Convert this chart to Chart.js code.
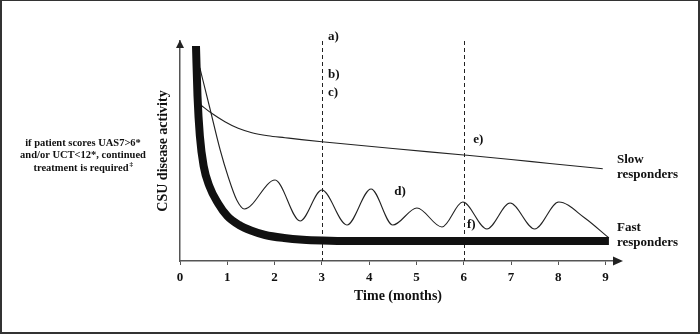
<!DOCTYPE html>
<html><head><meta charset="utf-8">
<script src="https://cdn.jsdelivr.net/npm/chart.js@4/dist/chart.umd.min.js"></script>
<style>html,body{margin:0;padding:0;background:#fff}#wrap{width:700px;height:334px;position:relative}</style>
</head><body><div id="wrap"><canvas id="c" width="700" height="334"></canvas></div>
<script>
// x tick labels (months)
const monthTicks = [0,1,2,3,4,5,6,7,8,9];
// Fast responders (thick curve)
const fastMonths = [0.338,0.37,0.42,0.50,0.62,0.80,1.00,1.25,1.50,1.80,2.20,2.60,3.00,3.60,9.07];
const fastValues = [215,165,125,95,75,58,45,36,30.5,26,23,21.3,20.5,20,20];
// Slow responders
const slowMonths = [0.44,0.67,0.95,1.23,1.52,1.86,2.22,2.57,3.00,4.50,6.00,7.00,7.82,8.94];
const slowValues = [156,147.7,139.3,132.7,128.3,125.3,123.3,121.4,119.3,112.5,106,101.5,97.5,92.3];
// Fluctuating course (d)
const waveMonths = [0.42,0.62,0.85,1.02,1.20,1.36,2.01,2.54,3.00,3.53,4.04,4.50,5.01,5.54,5.98,6.49,6.98,7.50,8.01,8.56,9.07];
const waveValues = [193,155,111,84,61,52,81,40,71,36,72,36,53,34,59,32,58,32,59,43,23];
// Decision time points (dashed lines)
const decisionMonths = [3,6];
// Letter annotations
const noteLabels = ['a)','b)','c)','d)','e)','f)'];
const noteMonths = [3.13,3.13,3.13,4.53,6.20,6.07];
const noteValues = [224,186,168,69,121,36];

const toPts = (xs, ys) => xs.map((x, i) => ({x, y: ys[i]}));
const SERIF = "'Liberation Serif','Times New Roman',serif";

const deco = {
  id: 'deco',
  beforeDatasetsDraw(chart) {
    const {ctx, scales: {x, y}} = chart;
    ctx.save();
    ctx.strokeStyle = '#222';
    ctx.lineWidth = 1;
    ctx.setLineDash([4, 3]);
    decisionMonths.forEach(m => {
      const px = Math.round(x.getPixelForValue(m)) + 0.5;
      ctx.beginPath();
      ctx.moveTo(px, y.getPixelForValue(220));
      ctx.lineTo(px, y.getPixelForValue(0));
      ctx.stroke();
    });
    ctx.restore();
  },
  afterDraw(chart) {
    const {ctx, scales: {x, y}, chartArea: ca} = chart;
    ctx.save();
    ctx.fillStyle = '#222';
    // y arrow
    const x0 = x.getPixelForValue(0), y0 = y.getPixelForValue(0);
    ctx.beginPath();
    ctx.moveTo(x0, ca.top - 1);
    ctx.lineTo(x0 - 4, ca.top + 7);
    ctx.lineTo(x0 + 4, ca.top + 7);
    ctx.closePath(); ctx.fill();
    // x arrow
    ctx.beginPath();
    ctx.moveTo(ca.right + 7, y0);
    ctx.lineTo(ca.right - 3, y0 - 4.5);
    ctx.lineTo(ca.right - 3, y0 + 4.5);
    ctx.closePath(); ctx.fill();

    // letter notes
    ctx.fillStyle = '#111';
    ctx.font = 'bold 13px ' + SERIF;
    ctx.textAlign = 'left';
    ctx.textBaseline = 'middle';
    noteLabels.forEach((t, i) => {
      ctx.fillText(t, x.getPixelForValue(noteMonths[i]), y.getPixelForValue(noteValues[i]));
    });
    // series labels
    const lx = ca.right + 1;
    ctx.fillText('Slow', lx, y.getPixelForValue(101));
    ctx.fillText('responders', lx, y.getPixelForValue(86));
    ctx.fillText('Fast', lx, y.getPixelForValue(33));
    ctx.fillText('responders', lx, y.getPixelForValue(18));

    // left note
    ctx.font = 'bold 10.5px ' + SERIF;
    ctx.textAlign = 'center';
    const cx = 83;
    ctx.fillText('if patient scores UAS7>6*', cx, 143);
    ctx.fillText('and/or UCT<12*, continued', cx, 155.5);
    const l3 = 'treatment is required';
    const w3 = ctx.measureText(l3).width;
    ctx.textAlign = 'left';
    ctx.fillText(l3, cx - w3 / 2 - 2, 168);
    ctx.font = 'bold 7px ' + SERIF;
    ctx.fillText('\u2021', cx + w3 / 2 - 1, 164);

    // frame
    ctx.fillStyle = '#333';
    ctx.fillRect(0, 0, 2, 334);
    ctx.fillRect(698, 0, 2, 334);
    ctx.fillRect(0, 332, 700, 2);
    ctx.fillRect(0, 0, 700, 1);
    ctx.restore();
  }
};

new Chart(document.getElementById('c'), {
  type: 'line',
  data: {
    datasets: [
      {data: toPts(fastMonths, fastValues), borderColor: '#111', borderWidth: 8, borderCapStyle: 'butt', cubicInterpolationMode: 'monotone', pointRadius: 0, fill: false},
      {data: toPts(slowMonths, slowValues), borderColor: '#222', borderWidth: 1.1, cubicInterpolationMode: 'monotone', pointRadius: 0, fill: false},
      {data: toPts(waveMonths, waveValues), borderColor: '#222', borderWidth: 1.1, cubicInterpolationMode: 'monotone', pointRadius: 0, fill: false}
    ]
  },
  options: {
    responsive: false,
    animation: false,
    devicePixelRatio: 1,
    clip: false,
    layout: {padding: {left: 155, right: 84, top: 41, bottom: 29}},
    plugins: {legend: {display: false}, tooltip: {enabled: false}},
    scales: {
      x: {
        type: 'linear', min: 0, max: 9.22,
        afterBuildTicks: s => { s.ticks = monthTicks.map(v => ({value: v})); },
        afterFit: s => { s.height = 44; },
        grid: {display: true, drawOnChartArea: false, drawTicks: true, tickLength: 4, color: '#555', lineWidth: 1},
        border: {display: true, color: '#555', width: 1.5},
        ticks: {color: '#111', padding: 5, maxRotation: 0, font: {family: SERIF, size: 13, weight: 'bold'}},
        title: {display: true, text: 'Time (months)', color: '#111', padding: 0, font: {family: SERIF, size: 14, weight: 'bold'}}
      },
      y: {
        type: 'linear', min: 0, max: 220,
        afterFit: s => { s.width = 25; },
        grid: {display: false},
        border: {display: true, color: '#555', width: 1.5},
        ticks: {display: false},
        title: {display: true, text: 'CSU disease activity', color: '#111', padding: 0, font: {family: SERIF, size: 14, weight: 'bold'}}
      }
    }
  },
  plugins: [deco]
});
</script></body></html>
